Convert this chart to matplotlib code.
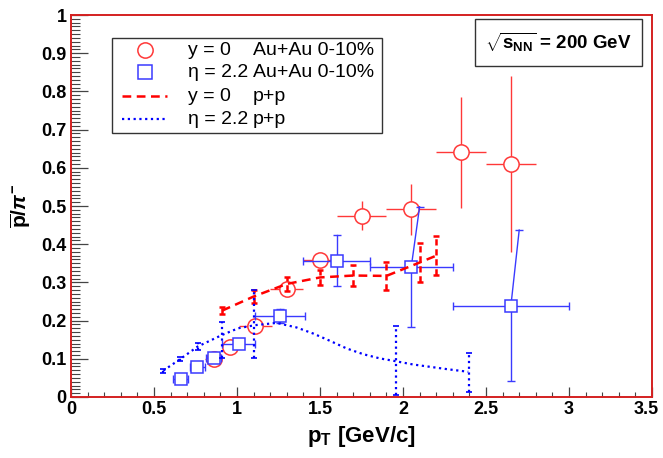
import numpy as np
import matplotlib.pyplot as plt
from matplotlib.patches import Rectangle
from matplotlib.ticker import MultipleLocator
from matplotlib.transforms import ScaledTranslation

plt.rcParams['font.family'] = 'Liberation Sans'
plt.rcParams['mathtext.fontset'] = 'custom'
plt.rcParams['mathtext.rm'] = 'Liberation Sans:bold'
plt.rcParams['mathtext.it'] = 'Liberation Sans:bold:italic'
plt.rcParams['mathtext.bf'] = 'Liberation Sans:bold'

# Au+Au 0-10%, y = 0
aa_y0_x = [0.86, 0.96, 1.11, 1.30, 1.50, 1.75, 2.05, 2.35, 2.65]
aa_y0_y = [0.100, 0.132, 0.187, 0.283, 0.359, 0.474, 0.491, 0.641, 0.610]
aa_y0_xerr = [0.05, 0.05, 0.10, 0.10, 0.10, 0.15, 0.15, 0.15, 0.15]
aa_y0_yerr = [0.005, 0.005, 0.010, 0.010, 0.010, 0.038, 0.067, 0.145, 0.230]

# Au+Au 0-10%, eta = 2.2
aa_eta_x = [0.66, 0.76, 0.86, 1.01, 1.26, 1.60, 2.05, 2.65]
aa_eta_y = [0.048, 0.079, 0.103, 0.139, 0.213, 0.357, 0.341, 0.239]
aa_eta_xerr = [0.045, 0.045, 0.045, 0.10, 0.15, 0.20, 0.25, 0.35]
aa_eta_yerr = [0.0, 0.0, 0.0, 0.0, 0.018, 0.067, 0.157, 0.198]
aa_eta_arm_shift = [0.0, 0.0, 0.0, 0.0, 0.0, 0.0, 0.05, 0.05]

# p+p, y = 0
pp_y0_x = [0.91, 1.10, 1.30, 1.50, 1.70, 1.90, 2.10, 2.20]
pp_y0_y = [0.226, 0.263, 0.296, 0.313, 0.318, 0.317, 0.352, 0.370]
pp_y0_err = [0.010, 0.018, 0.018, 0.020, 0.028, 0.036, 0.050, 0.051]

# p+p, eta = 2.2 (points with errors, and the drawn curve)
pp_eta_x = [0.556, 0.657, 0.763, 0.908, 1.104, 1.956, 2.398]
pp_eta_y = [0.069, 0.099, 0.132, 0.162, 0.188, 0.095, 0.066]
pp_eta_err_lo = [0.005, 0.006, 0.010, 0.061, 0.087, 0.090, 0.052]
pp_eta_err_hi = [0.005, 0.006, 0.010, 0.035, 0.092, 0.090, 0.050]
pp_eta_curve_x = [0.556, 0.657, 0.763, 0.908, 1.008, 1.108, 1.239, 1.359, 1.460,
                  1.560, 1.661, 1.761, 1.861, 1.952, 2.062, 2.163, 2.263, 2.393]
pp_eta_curve_y = [0.069, 0.099, 0.132, 0.162, 0.180, 0.188, 0.194, 0.182, 0.166,
                  0.147, 0.127, 0.112, 0.101, 0.094, 0.085, 0.079, 0.073, 0.066]

x_ticks = [0, 0.5, 1, 1.5, 2, 2.5, 3, 3.5]
x_labels = ['0', '0.5', '1', '1.5', '2', '2.5', '3', '3.5']
y_ticks = [0, 0.1, 0.2, 0.3, 0.4, 0.5, 0.6, 0.7, 0.8, 0.9, 1]
y_labels = ['0', '0.1', '0.2', '0.3', '0.4', '0.5', '0.6', '0.7', '0.8', '0.9', '1']

red_m = '#ff3838'
blue_m = '#3a3aff'

fig = plt.figure(figsize=(6.63, 4.58), dpi=100)
ax = fig.add_axes([0.1071, 0.1332, 0.8763, 0.834])

# Au+Au y=0 circles
ax.errorbar(aa_y0_x, aa_y0_y, xerr=aa_y0_xerr, yerr=aa_y0_yerr, fmt='none',
            ecolor=red_m, elinewidth=1.0, capsize=0, zorder=2)
ax.plot(aa_y0_x, aa_y0_y, 'o', ms=11, mfc='white', mec=red_m, mew=1.1, zorder=3)

# Au+Au eta=2.2 squares; upper arms drawn separately
zeros = np.zeros(len(aa_eta_x))
ax.errorbar(aa_eta_x, aa_eta_y, xerr=aa_eta_xerr, yerr=[aa_eta_yerr, zeros],
            fmt='none', ecolor=blue_m, elinewidth=1.0, capsize=3, capthick=1.0, zorder=4)
for x, y, e, s in zip(aa_eta_x, aa_eta_y, aa_eta_yerr, aa_eta_arm_shift):
    if e > 0:
        ax.plot([x, x + s], [y, y + e], color=blue_m, lw=1.0, zorder=4)
        ax.plot(x + s, y + e, marker='_', ms=6, mew=1.0, color=blue_m, zorder=4)
ax.plot(aa_eta_x, aa_eta_y, 's', ms=9, mfc='white', mec=blue_m, mew=1.1, zorder=5)

# p+p y=0 dashed
ax.plot(pp_y0_x, pp_y0_y, color='red', lw=1.8, dashes=(3.5, 2.2), zorder=6)
eb = ax.errorbar(pp_y0_x, pp_y0_y, yerr=pp_y0_err, fmt='none', ecolor='red',
                 elinewidth=1.8, capsize=2.5, capthick=1.8, zorder=6)
eb[2][0].set_linestyle((0, (2.5, 1.5)))

# p+p eta=2.2 dotted
ax.plot(pp_eta_curve_x, pp_eta_curve_y, color='blue', lw=1.6, dashes=(1, 1.6), zorder=7)
eb = ax.errorbar(pp_eta_x, pp_eta_y, yerr=[pp_eta_err_lo, pp_eta_err_hi], fmt='none',
                 ecolor='blue', elinewidth=1.6, capsize=2.5, capthick=1.2, zorder=7)
eb[2][0].set_linestyle((0, (1, 1.6)))

ax.set_xlim(0, 3.5)
ax.set_ylim(0, 1)
ax.set_xticks(x_ticks, x_labels, fontweight='bold')
ax.set_yticks(y_ticks, y_labels, fontweight='bold')
ax.xaxis.set_minor_locator(MultipleLocator(0.1))
ax.yaxis.set_minor_locator(MultipleLocator(0.01))
ax.tick_params(axis='x', which='major', direction='in', length=7.5, width=0.9,
               color='#444444', labelsize=13, pad=3)
ax.tick_params(axis='x', which='minor', direction='in', length=3.7, width=0.8, color='#444444')
ax.tick_params(axis='y', which='major', direction='in', length=12.5, width=0.9,
               color='#444444', labelsize=13, pad=3)
ax.tick_params(axis='y', which='minor', direction='in', length=6.2, width=0.8, color='#444444')
for sp in ax.spines.values():
    sp.set_color('#d42020')
    sp.set_linewidth(1.4)

# nudge the last x tick label so it stays inside the figure
last = ax.xaxis.get_major_ticks()[-1].label1
last.set_transform(last.get_transform() + ScaledTranslation(-4 / 72, 0, fig.dpi_scale_trans))

ax.set_xlabel(r'$\mathrm{p}_{\mathrm{T}}$ [GeV/c]', fontsize=16, fontweight='bold', labelpad=4)
ax.set_ylabel(r'$\overline{\mathrm{p}}/\pi^{-}$', fontsize=15, labelpad=6)

# legend box
ax.add_patch(Rectangle((0.070, 0.691), 0.465, 0.250, transform=ax.transAxes,
                       fill=False, ec='#333333', lw=1.0, zorder=10))
rows = [0.908, 0.850, 0.788, 0.727]
ax.plot(0.127, rows[0], 'o', ms=11, mfc='white', mec=red_m, mew=1.1,
        transform=ax.transAxes, zorder=11)
ax.plot(0.127, rows[1], 's', ms=10, mfc='white', mec=blue_m, mew=1.1,
        transform=ax.transAxes, zorder=11)
ax.plot([0.088, 0.165], [rows[2]] * 2, color='red', lw=1.8, dashes=(3.5, 2.2),
        transform=ax.transAxes, zorder=11)
ax.plot([0.088, 0.165], [rows[3]] * 2, color='blue', lw=1.6, dashes=(1, 1.6),
        transform=ax.transAxes, zorder=11)
first = ['y = 0', 'η = 2.2', 'y = 0', 'η = 2.2']
second = ['Au+Au 0-10%', 'Au+Au 0-10%', 'p+p', 'p+p']
for r, a, b in zip(rows, first, second):
    ax.text(0.201, r, a, transform=ax.transAxes, fontsize=14, va='center', ha='left', zorder=11)
    ax.text(0.313, r, b, transform=ax.transAxes, fontsize=14, va='center', ha='left', zorder=11)

# energy box
ax.add_patch(Rectangle((0.696, 0.867), 0.286, 0.123, transform=ax.transAxes,
                       fill=False, ec='#333333', lw=1.0, zorder=10))
ax.text(0.839, 0.928, r'$\sqrt{\mathrm{s}_{\mathrm{NN}}}$ = 200 GeV', transform=ax.transAxes,
        fontsize=13.5, fontweight='bold', ha='center', va='center', zorder=11)

fig.savefig('out.png', dpi=100)
